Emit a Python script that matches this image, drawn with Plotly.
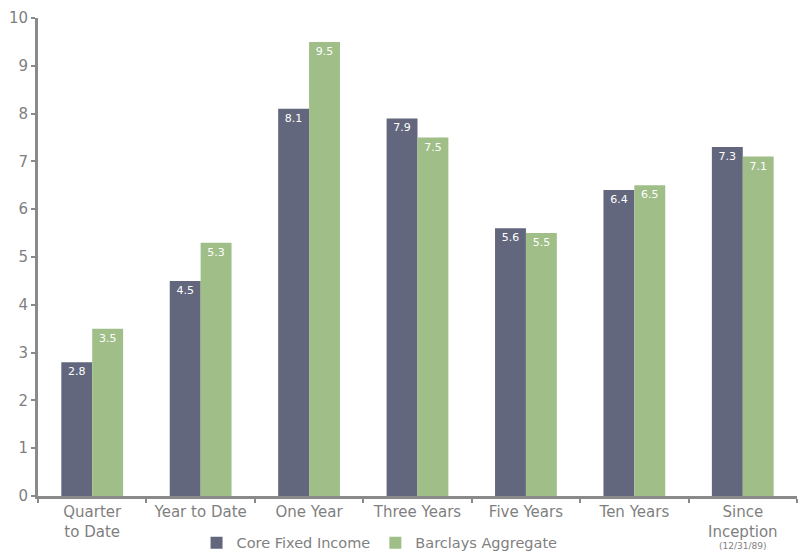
import plotly.graph_objects as go

categories = ["Quarter<br>to Date", "Year to Date", "One Year", "Three Years", "Five Years", "Ten Years",
              "Since<br>Inception"]
inception_note = "(12/31/89)"
core = [2.8, 4.5, 8.1, 7.9, 5.6, 6.4, 7.3]
barclays = [3.5, 5.3, 9.5, 7.5, 5.5, 6.5, 7.1]
y_ticks = list(range(0, 11))

FONT = "DejaVu Sans"
fig = go.Figure()
fig.add_trace(go.Bar(x=categories, y=core, name="Core Fixed Income", marker_color="#63677e",
                     marker_line_width=0, text=[f"{v:.1f}" for v in core], textposition="inside",
                     insidetextanchor="end", textfont=dict(color="white", size=11, family=FONT)))
fig.add_trace(go.Bar(x=categories, y=barclays, name="Barclays Aggregate", marker_color="#9fbe88",
                     marker_line_width=0, text=[f"{v:.1f}" for v in barclays], textposition="inside",
                     insidetextanchor="end", textfont=dict(color="white", size=11, family=FONT)))

fig.add_annotation(x=categories[-1], xref="x", y=-0.105, yref="paper", yanchor="middle",
                   text=inception_note, showarrow=False, font=dict(size=9, color="#7f7f7f"))

fig.update_layout(
    width=810, height=554, barmode="group", bargap=0.43, bargroupgap=0,
    margin=dict(l=38, r=13, t=18, b=58, autoexpand=False),
    plot_bgcolor="white", paper_bgcolor="white",
    font=dict(family=FONT, color="#7f7f7f", size=14),
    uniformtext=dict(minsize=8, mode="show"),
    legend=dict(orientation="h", x=0.45, xanchor="center", y=-0.098, yanchor="middle",
                font=dict(size=14.5, color="#7f7f7f"), itemwidth=30, traceorder="normal"),
    xaxis=dict(showline=True, linecolor="#8a8a8a", linewidth=3, ticks="outside", tickson="boundaries",
               ticklen=4, tickwidth=2, tickcolor="#8a8a8a", showgrid=False, tickfont=dict(size=15),
               automargin=False),
    yaxis=dict(range=[0, 10], tickvals=y_ticks, showline=True, linecolor="#8a8a8a", linewidth=3,
               ticks="outside", ticklen=4, tickwidth=2, tickcolor="#8a8a8a", showgrid=False,
               zeroline=False, tickfont=dict(size=15), automargin=False),
)
fig.write_html("out.html")
